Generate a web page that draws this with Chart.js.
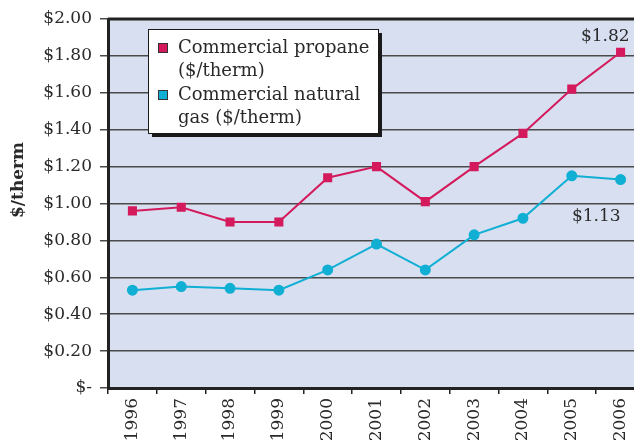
<!DOCTYPE html>
<html>
<head>
<meta charset="utf-8">
<script src="https://cdn.jsdelivr.net/npm/chart.js@4.4.1/dist/chart.umd.min.js"></script>
<style>
  html, body { margin: 0; padding: 0; background: #fff; overflow: hidden; }
  #wrap { width: 652px; height: 444px; }
</style>
</head>
<body>
<div id="wrap"><canvas id="priceChart" width="652" height="444"></canvas></div>
<script>
// data
const years = ['1996', '1997', '1998', '1999', '2000', '2001', '2002', '2003', '2004', '2005', '2006'];
const propane = [0.96, 0.98, 0.90, 0.90, 1.14, 1.20, 1.01, 1.20, 1.38, 1.62, 1.82];
const naturalGas = [0.53, 0.55, 0.54, 0.53, 0.64, 0.78, 0.64, 0.83, 0.92, 1.15, 1.13];
const yTickLabels = ['$-', '$0.20', '$0.40', '$0.60', '$0.80', '$1.00', '$1.20', '$1.40', '$1.60', '$1.80', '$2.00'];
const legendLines = [['Commercial propane', '($/therm)'], ['Commercial natural', 'gas ($/therm)']];
const endLabels = ['$1.82', '$1.13'];
const yTitle = '$/therm';

const propaneColor = '#d41a5c';
const gasColor = '#10afd3';
const textColor = '#2a2a2a';
const serif = '"DejaVu Serif", serif';

// plot background + top border + y title
const plotBackground = {
  id: 'plotBackground',
  beforeDraw(chart) {
    const { ctx, chartArea: a } = chart;
    ctx.save();
    ctx.fillStyle = '#d7dff1';
    ctx.fillRect(a.left, a.top, a.right - a.left, a.bottom - a.top);
    ctx.restore();
  },
  afterDraw(chart) {
    const { ctx, chartArea: a } = chart;
    ctx.save();
    ctx.strokeStyle = '#222';
    ctx.lineWidth = 3;
    ctx.beginPath();
    ctx.moveTo(a.left, a.top);
    ctx.lineTo(a.right, a.top);
    ctx.stroke();

    // the axis title sits a bit above the middle in the original
    ctx.translate(19, 180);
    ctx.rotate(-Math.PI / 2);
    ctx.font = 'bold 17px ' + serif;
    ctx.fillStyle = textColor;
    ctx.textAlign = 'center';
    ctx.textBaseline = 'middle';
    ctx.fillText(yTitle, 0, 0);
    ctx.restore();
  }
};

// boxed legend with two-line labels and a drop shadow
const boxLegend = {
  id: 'boxLegend',
  afterDraw(chart) {
    const ctx = chart.ctx;
    const x = 148, y = 29, w = 230, h = 104;
    ctx.save();
    ctx.fillStyle = '#1a1a1a';
    ctx.fillRect(x + 4, y + 4, w, h);
    ctx.fillStyle = '#fff';
    ctx.fillRect(x, y, w, h);
    ctx.strokeStyle = '#1a1a1a';
    ctx.lineWidth = 1;
    ctx.strokeRect(x + 0.5, y + 0.5, w, h);

    ctx.font = '18px ' + serif;
    ctx.textBaseline = 'middle';
    chart.data.datasets.forEach((ds, i) => {
      const top = 48 + i * 47;
      ctx.fillStyle = ds.backgroundColor;
      ctx.fillRect(158, top - 5, 10, 10);
      ctx.strokeStyle = '#333';
      ctx.strokeRect(158.5, top - 4.5, 9, 9);
      ctx.fillStyle = textColor;
      legendLines[i].forEach((line, j) => {
        ctx.fillText(line, 178, top + j * 23.5);
      });
    });
    ctx.restore();
  }
};

// value labels at the last points
const endValueLabels = {
  id: 'endValueLabels',
  afterDatasetsDraw(chart) {
    const ctx = chart.ctx;
    ctx.save();
    ctx.font = '17px ' + serif;
    ctx.fillStyle = textColor;
    ctx.textAlign = 'right';
    ctx.textBaseline = 'middle';
    const p = chart.getDatasetMeta(0).data[years.length - 1];
    ctx.fillText(endLabels[0], p.x + 9, p.y - 16);
    const g = chart.getDatasetMeta(1).data[years.length - 1];
    ctx.fillText(endLabels[1], g.x, g.y + 37);
    ctx.restore();
  }
};

new Chart(document.getElementById('priceChart'), {
  type: 'line',
  data: {
    labels: years,
    datasets: [{
      label: legendLines[0].join(' '),
      data: propane,
      borderColor: propaneColor,
      backgroundColor: propaneColor,
      borderWidth: 2,
      pointStyle: 'rect',
      pointRadius: 5,
      tension: 0
    }, {
      label: legendLines[1].join(' '),
      data: naturalGas,
      borderColor: gasColor,
      backgroundColor: gasColor,
      borderWidth: 2,
      pointStyle: 'circle',
      pointRadius: 4.5,
      tension: 0
    }]
  },
  options: {
    responsive: false,
    animation: false,
    layout: { padding: { top: 19, right: 6, left: 0, bottom: 0 } },
    plugins: {
      legend: { display: false },
      tooltip: { enabled: false }
    },
    scales: {
      x: {
        offset: true,
        grid: {
          offset: true,
          drawOnChartArea: false,
          drawTicks: true,
          tickLength: 6,
          color: '#222',
          lineWidth: 1.5
        },
        border: { color: '#222', width: 3 },
        ticks: {
          color: textColor,
          font: { family: serif, size: 17 },
          minRotation: 90,
          maxRotation: 90,
          padding: 4,
          autoSkip: false
        },
        afterFit(scale) { scale.height = 56; }
      },
      y: {
        min: 0,
        max: 2,
        ticks: {
          stepSize: 0.2,
          color: textColor,
          font: { family: serif, size: 17 },
          padding: 8,
          callback: (v, i) => yTickLabels[i]
        },
        grid: {
          color: '#4a4a4a',
          lineWidth: 1.5,
          tickLength: 8
        },
        border: { color: '#222', width: 3 },
        afterFit(scale) { scale.width = 108; }
      }
    }
  },
  plugins: [plotBackground, boxLegend, endValueLabels]
});
</script>
</body>
</html>
